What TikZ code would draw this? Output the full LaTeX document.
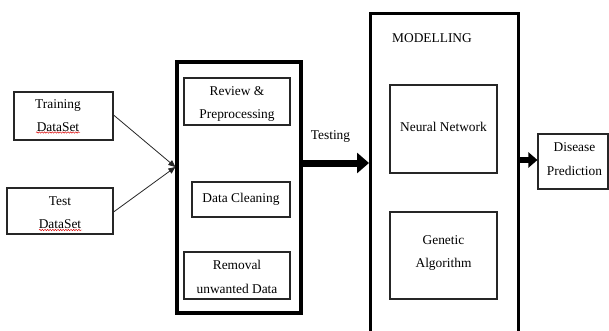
\documentclass[tikz,border=0pt]{standalone}
\usepackage{fontspec}
\setmainfont{Liberation Serif}
\usetikzlibrary{arrows.meta,decorations.pathmorphing}
\begin{document}
\begin{tikzpicture}[x=1pt,y=-1pt,
  every node/.style={font=\fontsize{13.4}{23.5}\selectfont, inner sep=0pt, align=center},
  thinbox/.style={draw=black!85, line width=1.1pt},
  bigbox/.style={draw=black, line width=3.2pt},
  feed/.style={draw=black!85, line width=0.8pt, -{Triangle[length=7pt,width=6pt]}},
  fat/.style={line width=7pt, -{Triangle[length=12pt,width=20pt]}},
  squiggle/.style={draw=red!85!black, line width=0.45pt, decorate,
    decoration={snake, amplitude=0.7pt, segment length=2.6pt}}
]
\useasboundingbox (0,0) rectangle (609,331);

% input data sets
\node[thinbox, minimum width=99pt, minimum height=48pt] (train) at (63.5,116) {};
\node (traintxt) at (58,115.5) {Training\\DataSet};
\node[thinbox, minimum width=106pt, minimum height=46pt] (test) at (60,211) {};
\node (testtxt) at (60,212.5) {Test\\DataSet};
\draw[squiggle] (36,132.5) -- (80,132.5);
\draw[squiggle] (39,230) -- (82,230);

% preprocessing stage
\node[bigbox, minimum width=124pt, minimum height=251pt] (prep) at (239,187.5) {};
\node[thinbox, minimum width=106pt, minimum height=47pt] (review) at (237,101.5) {};
\node (reviewtxt) at (237,104) {Review \&\\Preprocessing};
\node[thinbox, minimum width=98pt, minimum height=35pt] (clean) at (241,199.5) {Data Cleaning};
\node[thinbox, minimum width=106pt, minimum height=47pt] (removal) at (237,275.5) {};
\node (removaltxt) at (237,277) {Removal\\unwanted Data};

\coordinate (join) at (prep.west |- 0,167);
\draw[feed] (train.east) ++(0,-1) -- (join);
\draw[feed] (test.east) ++(0,1) -- (join);

% modelling stage, open at the bottom
\node[bigbox, minimum width=148pt, minimum height=340pt, anchor=north west] (model) at (369,12) {};
\node (modtitle) at (432,38) {MODELLING};
\node[thinbox, minimum width=107pt, minimum height=88pt] (nn) at (443.5,129) {};
\node (nntxt) at (443.5,127) {Neural Network};
\node[thinbox, minimum width=107pt, minimum height=87pt] (ga) at (443.5,255.5) {};
\node (gatxt) at (443.5,253) {Genetic\\Algorithm};

% output
\node[thinbox, minimum width=70pt, minimum height=55pt] (out) at (573,161.5) {};
\node (outtxt) at (574.5,159) {Disease\\Prediction};

% flow arrows
\draw[fat] (prep.east |- 0,163) -- (model.west |- 0,163) node[pos=0.42, above=17pt] (testlbl) {Testing};
\draw[line width=6pt, -{Triangle[length=9pt,width=15pt]}] (model.east |- 0,160) -- (out.west |- 0,160);
\end{tikzpicture}
\end{document}
